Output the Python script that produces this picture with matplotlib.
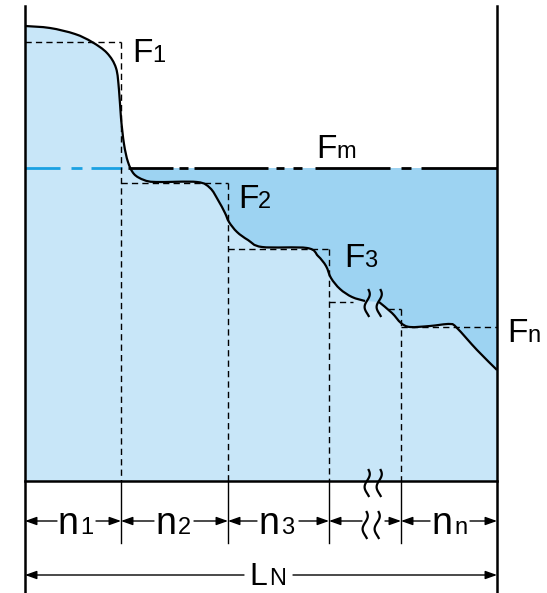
import numpy as np
import matplotlib.pyplot as plt
from matplotlib.path import Path
from matplotlib.patches import PathPatch

# pixel-space drawing (y grows downwards)
W, H = 547, 593
box_left, box_right, box_top, box_bottom = 25, 497, 6, 481
fm_level = 168

# section boundaries and step levels (F1, F2, F3, break, Fn)
dividers = [121, 228, 329, 401]
step_x0 = [25, 121, 228, 329, 401]
step_x1 = [121, 228, 329, 353, 497]
step_y = [42, 183, 249, 302, 327]

# load curve (two pieces either side of the break)
curve_a_x = [25, 50, 75, 92, 107, 116, 119, 121, 124, 128, 134, 144, 156, 197, 210, 218, 225, 229, 237, 248, 262, 307, 318, 326, 331, 340, 352, 365]
curve_a_y = [26, 28, 34, 42, 53, 68, 90, 118, 144, 162, 174, 180, 182, 182, 188, 200, 213, 222, 232, 240, 247, 248, 256, 266, 278, 289, 297, 301]
curve_b_x = [379, 392, 401, 410, 430, 450, 457, 477, 497]
curve_b_y = [302, 313, 323, 327, 326, 324, 328, 350, 370]

# Fm line pieces (cyan where it crosses the light area, black beyond)
fm_cyan = [(25, 60), (71, 82), (91, 122)]
fm_black = [(128, 173), (179, 188), (194, 268), (276, 284), (293, 302), (315, 390), (401, 411), (421, 497)]

LIGHT = '#c8e6f8'
DARK = '#9dd3f2'
CYAN = '#1ba1e2'


def smooth_path(xs, ys):
    # Catmull-Rom through the points -> cubic Bezier segments
    p = np.column_stack([xs, ys]).astype(float)
    ext = np.vstack([p[0], p, p[-1]])
    verts = [tuple(p[0])]
    codes = [Path.MOVETO]
    for i in range(1, len(ext) - 2):
        p0, p1, p2, p3 = ext[i - 1], ext[i], ext[i + 1], ext[i + 2]
        c1 = p1 + (p2 - p0) / 6
        c2 = p2 - (p3 - p1) / 6
        verts += [tuple(c1), tuple(c2), tuple(p2)]
        codes += [Path.CURVE4] * 3
    return verts, codes


fig = plt.figure(figsize=(W / 100, H / 100), dpi=100)
ax = fig.add_axes([0, 0, 1, 1])
ax.set_xlim(0, W)
ax.set_ylim(H, 0)
ax.axis('off')

# dark band between Fm and the curve
ax.fill_between([box_left, box_right], fm_level, box_bottom, color=DARK, lw=0, zorder=1)

# light area under the curve
va, ca = smooth_path(curve_a_x, curve_a_y)
vb, cb = smooth_path(curve_b_x, curve_b_y)
fill_v = va + vb + [(box_right, box_bottom), (box_left, box_bottom), va[0]]
fill_c = ca + [Path.LINETO] + cb[1:] + [Path.LINETO, Path.LINETO, Path.CLOSEPOLY]
ax.add_patch(PathPatch(Path(fill_v, fill_c), facecolor=LIGHT, edgecolor='none', zorder=2))

# Fm line
for x0, x1 in fm_cyan:
    ax.plot([x0, x1], [fm_level, fm_level], color=CYAN, lw=2.0, solid_capstyle='butt', zorder=3)
for x0, x1 in fm_black:
    ax.plot([x0, x1], [fm_level, fm_level], color='black', lw=2.0, solid_capstyle='butt', zorder=3)

# dashed step rectangles
dash = (0, (4.5, 3))
for x0, x1, y in zip(step_x0, step_x1, step_y):
    ax.plot([x0, x1], [y, y], color='black', lw=1.0, linestyle=dash, zorder=4)
ax.plot([388, 401], [309, 309], color='black', lw=1.0, linestyle=dash, zorder=4)
vert_top = [42, 183, 249, 309]
for x, yt in zip(dividers, vert_top):
    ax.plot([x, x], [yt, box_bottom], color='black', lw=1.0, linestyle=dash, zorder=4)

# curve strokes
for v, c in ((va, ca), (vb, cb)):
    ax.add_patch(PathPatch(Path(v, c), facecolor='none', edgecolor='black', lw=1.6, zorder=5))

# box outline
ax.plot([box_left, box_left], [box_top, H], color='black', lw=1.8, zorder=6)
ax.plot([box_right, box_right], [box_top, H], color='black', lw=1.8, zorder=6)
ax.plot([box_left, box_right], [box_bottom, box_bottom], color='black', lw=1.8, zorder=6)

# dimension lines
dim_y = 521
ln_y = 575
for x in dividers:
    ax.plot([x, x], [box_bottom, 543], color='black', lw=1.0, zorder=6)

edges = [box_left] + dividers + [box_right]
text_gaps = [(57, 96), (154, 194), (257, 299), (362, 385), (430, 470)]


def arrow(x_tip, x_tail, y):
    ax.annotate('', xy=(x_tip, y), xytext=(x_tail, y),
                arrowprops=dict(arrowstyle='-|>,head_length=0.7,head_width=0.25',
                                color='black', lw=1.0, shrinkA=0, shrinkB=0), zorder=7)


for (xa, xb), (g0, g1) in zip(zip(edges[:-1], edges[1:]), text_gaps):
    arrow(xa, g0, dim_y)
    arrow(xb, g1, dim_y)
arrow(box_left, 244, ln_y)
arrow(box_right, 293, ln_y)


def break_mark(xc, yc, h):
    t = np.linspace(0, 1, 30)
    ax.plot(xc + 2.6 * np.sin(2 * np.pi * t + 0.6) - 0.8, yc + (t - 0.5) * h,
            color='black', lw=1.6, zorder=8)


for xc in (368, 380):
    break_mark(xc, 303, 26)
    break_mark(xc, 483, 26)
    break_mark(xc - 2, 525, 26)

# labels
font = 'Liberation Sans'


def label(x, y, main, sub, gap, big=24, small=17):
    ax.text(x, y, main, fontsize=big, family=font, va='baseline', ha='left', zorder=9)
    ax.text(x + gap, y, sub, fontsize=small, family=font, va='baseline', ha='left', zorder=9)


label(132, 62, 'F', '1', 20)
label(238, 208, 'F', '2', 20)
label(344, 267, 'F', '3', 20)
label(316, 158, 'F', 'm', 20)
label(507, 342, 'F', 'n', 20)
label(57, 534, 'n', '1', 23, big=27)
label(155, 534, 'n', '2', 23, big=27)
label(258, 534, 'n', '3', 23, big=27)
label(431, 534, 'n', 'n', 23, big=27)
label(249, 585, 'L', 'N', 20, big=23)

fig.savefig('out.png', dpi=100)
